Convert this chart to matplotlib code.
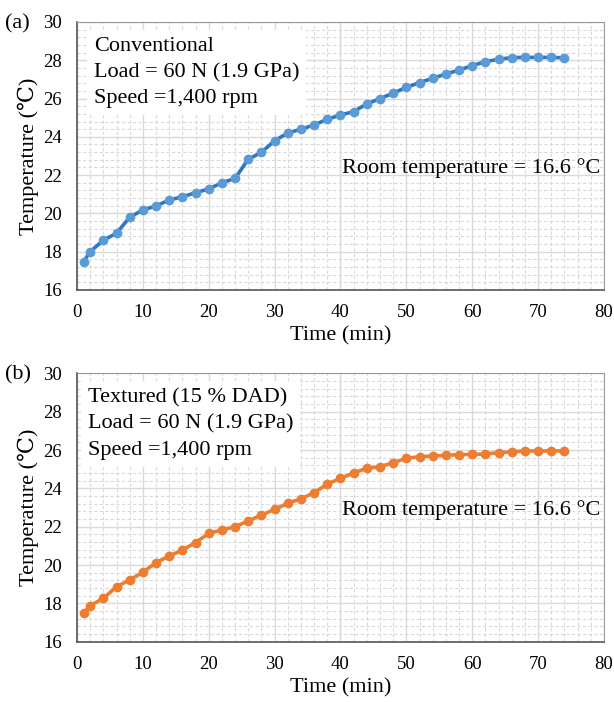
import numpy as np
import matplotlib
matplotlib.use('Agg')
import matplotlib.pyplot as plt
from matplotlib.ticker import MultipleLocator

plt.rcParams['font.family'] = ['Liberation Serif', 'DejaVu Serif']

# data
time = [1, 2, 4, 6, 8, 10, 12, 14, 16, 18, 20, 22, 24, 26, 28, 30, 32, 34, 36,
        38, 40, 42, 44, 46, 48, 50, 52, 54, 56, 58, 60, 62, 64, 66, 68, 70, 72, 74]
temp_conv = [17.48, 18.0, 18.6, 18.96, 19.8, 20.18, 20.39, 20.7, 20.87, 21.08,
             21.28, 21.6, 21.83, 22.83, 23.19, 23.8, 24.2, 24.4, 24.62, 24.92,
             25.14, 25.32, 25.72, 26.0, 26.28, 26.59, 26.83, 27.06, 27.28, 27.49,
             27.72, 27.93, 28.05, 28.14, 28.15, 28.15, 28.15, 28.13]
temp_text = [17.48, 17.88, 18.26, 18.87, 19.22, 19.62, 20.12, 20.47, 20.78, 21.17,
             21.65, 21.83, 22.0, 22.3, 22.61, 22.9, 23.22, 23.46, 23.77, 24.23,
             24.52, 24.8, 25.05, 25.13, 25.34, 25.57, 25.65, 25.69, 25.72, 25.76,
             25.77, 25.79, 25.86, 25.91, 25.95, 25.95, 25.95, 25.95]

panels = [
    ('(a)', temp_conv, '#2f76c6', '#5b9bd5',
     'Conventional\nLoad = 60 N (1.9 GPa)\nSpeed =1,400 rpm', 0.032, 0.455),
    ('(b)', temp_text, '#ed7d31', '#ed7d31',
     'Textured (15 % DAD)\nLoad = 60 N (1.9 GPa)\nSpeed =1,400 rpm', 0.02, 0.49),
]
room_text = 'Room temperature = 16.6 °C'

fig = plt.figure(figsize=(6.14, 7.02), dpi=100)
boxes = [[0.1254, 0.5869, 0.8583, 0.3818], [0.1254, 0.0859, 0.8583, 0.3823]]

for (lab, temp, lc, mc, note, nx, ry), box in zip(panels, boxes):
    ax = fig.add_axes(box)
    ax.plot(time, temp, '-', color=lc, lw=2.6, marker='o', ms=6,
            mfc=mc, mec=mc, zorder=3)
    ax.set_xlim(0, 80)
    ax.set_ylim(16, 30)
    ax.xaxis.set_major_locator(MultipleLocator(10))
    ax.xaxis.set_minor_locator(MultipleLocator(2))
    ax.yaxis.set_major_locator(MultipleLocator(2))
    ax.yaxis.set_minor_locator(MultipleLocator(0.4))
    ax.grid(which='major', color='#d9d9d9', lw=1.0, zorder=0)
    ax.grid(which='minor', color='#d9d9d9', lw=0.8, ls=(0, (3, 2)), zorder=0)
    ax.set_axisbelow(True)
    ax.tick_params(which='both', length=0, labelsize=13.5)
    ax.tick_params(axis='x', pad=10)
    ax.tick_params(axis='y', pad=11)
    for s in ['top', 'right']:
        ax.spines[s].set_color('#999999')
    for s in ['left', 'bottom']:
        ax.spines[s].set_color('#555555')
        ax.spines[s].set_linewidth(1.2)
    ax.set_xlabel('Time (min)', fontsize=16, labelpad=4)
    ax.set_ylabel('Temperature (℃)', fontsize=16, labelpad=3)
    ax.text(nx, 0.945, note, transform=ax.transAxes, fontsize=16,
            va='top', ha='left', linespacing=1.5,
            bbox=dict(facecolor='white', edgecolor='none', pad=5), zorder=4)
    ax.text(0.993, ry, room_text, transform=ax.transAxes, fontsize=16,
            va='center', ha='right', zorder=4)
    fig.text(0.008, ax.get_position().y1 - 0.002, lab, fontsize=16,
             va='center', ha='left')

fig.savefig('out.png', dpi=100)
